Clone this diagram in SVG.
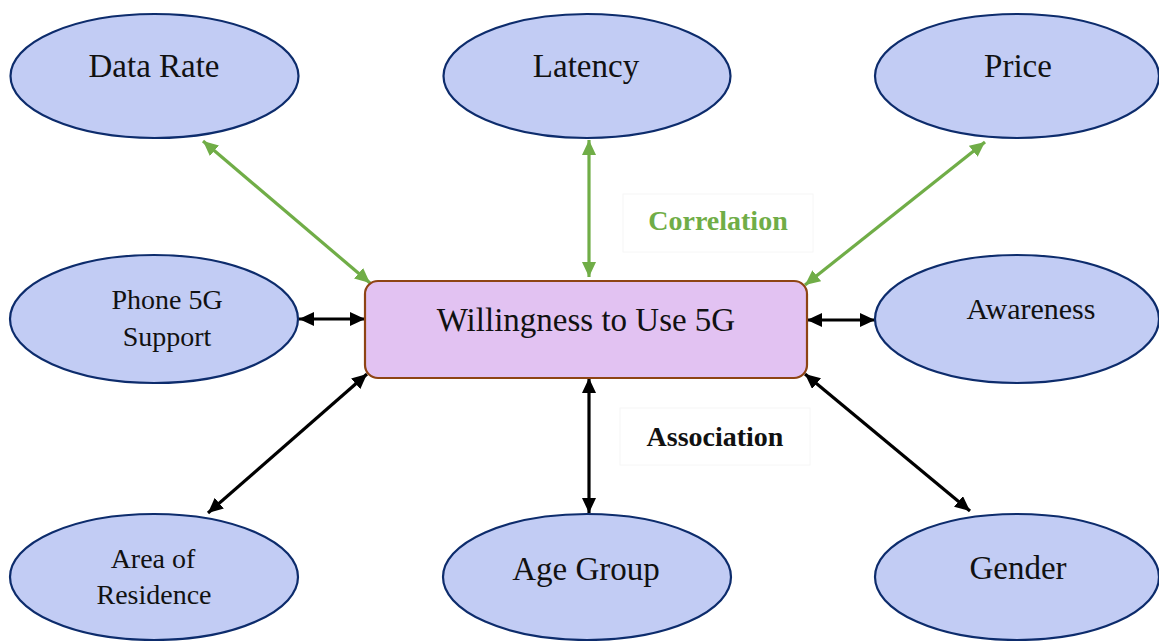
<svg xmlns="http://www.w3.org/2000/svg" width="1159" height="641" viewBox="0 0 1159 641">
  <style>
    .ell { fill: #c2ccf4; stroke: #0d2c6c; stroke-width: 2.2; }
    .box { fill: #e2c2f2; stroke: #8e4414; stroke-width: 2.2; }
    .t { font-family: "Liberation Serif", "Times New Roman", serif; fill: #111; text-anchor: middle; }
    .big { font-size: 33px; }
    .small { font-size: 28px; }
    .lbl { font-family: "Liberation Serif", "Times New Roman", serif; font-weight: bold; font-size: 28px; text-anchor: middle; }
    .g { stroke: #70ad47; stroke-width: 3.2; fill: none; marker-start: url(#ag); marker-end: url(#ag); }
    .k { stroke: #000; stroke-width: 3.2; fill: none; marker-start: url(#ak); marker-end: url(#ak); }
    .faint { fill: #fff; stroke: #f6f6f6; stroke-width: 1; }
  </style>
  <defs>
    <marker id="ag" markerUnits="userSpaceOnUse" markerWidth="17" markerHeight="15" refX="15" refY="7" orient="auto-start-reverse">
      <path d="M0,0 L15,7 L0,14 z" fill="#70ad47"/>
    </marker>
    <marker id="ak" markerUnits="userSpaceOnUse" markerWidth="17" markerHeight="15" refX="15" refY="7" orient="auto-start-reverse">
      <path d="M0,0 L15,7 L0,14 z" fill="#000"/>
    </marker>
  </defs>
  <rect width="1159" height="641" fill="#fff"/>

  <g id="label-correlation">
    <rect class="faint" x="623" y="194" width="190" height="58"/>
    <text class="lbl" x="718" y="230" fill="#70ad47">Correlation</text>
  </g>
  <g id="label-association">
    <rect class="faint" x="620" y="408" width="190" height="57"/>
    <text class="lbl" x="715" y="446" fill="#111">Association</text>
  </g>

  <g id="connectors">
    <line class="g" x1="203" y1="141" x2="370" y2="283"/>
    <line class="g" x1="589" y1="140" x2="589" y2="277"/>
    <line class="g" x1="985" y1="142" x2="805" y2="285"/>
    <line class="k" x1="299" y1="319" x2="365" y2="319"/>
    <line class="k" x1="807" y1="320" x2="875" y2="320"/>
    <line class="k" x1="367" y1="374" x2="208" y2="513"/>
    <line class="k" x1="589" y1="378" x2="589" y2="513"/>
    <line class="k" x1="805" y1="374" x2="970" y2="511"/>
  </g>

  <g id="data-rate">
    <ellipse class="ell" cx="154.5" cy="76" rx="144" ry="62"/>
    <text class="t big" x="154" y="77">Data Rate</text>
  </g>
  <g id="latency">
    <ellipse class="ell" cx="587" cy="76" rx="143.5" ry="62"/>
    <text class="t big" x="586" y="77">Latency</text>
  </g>
  <g id="price">
    <ellipse class="ell" cx="1017" cy="76" rx="142" ry="62"/>
    <text class="t big" x="1018" y="77">Price</text>
  </g>
  <g id="phone-5g-support">
    <ellipse class="ell" cx="154" cy="319" rx="144" ry="64"/>
    <text class="t small" x="167" y="309">Phone 5G</text>
    <text class="t small" x="167" y="346">Support</text>
  </g>
  <g id="willingness">
    <rect class="box" x="365" y="281" width="442" height="97" rx="13" ry="13"/>
    <text class="t big" x="586" y="331">Willingness to Use 5G</text>
  </g>
  <g id="awareness">
    <ellipse class="ell" cx="1017" cy="319" rx="142" ry="64"/>
    <text class="t" x="1031" y="319" font-size="30">Awareness</text>
  </g>
  <g id="area-of-residence">
    <ellipse class="ell" cx="154" cy="577" rx="144" ry="63"/>
    <text class="t small" x="153" y="568">Area of</text>
    <text class="t small" x="154" y="604">Residence</text>
  </g>
  <g id="age-group">
    <ellipse class="ell" cx="587" cy="577" rx="144" ry="63"/>
    <text class="t big" x="586" y="580">Age Group</text>
  </g>
  <g id="gender">
    <ellipse class="ell" cx="1017" cy="577" rx="142" ry="63"/>
    <text class="t big" x="1018" y="579">Gender</text>
  </g>
</svg>
